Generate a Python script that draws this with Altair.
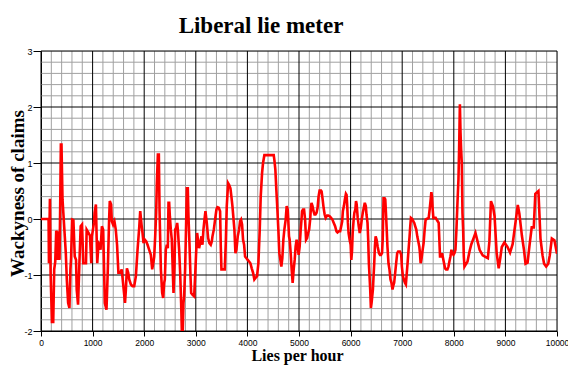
import altair as alt
import pandas as pd

# ---- data ----
lies_per_hour = [
    0, 147, 154, 173, 186, 212, 237, 256, 276, 295, 314, 327, 340, 359, 372, 385, 397, 417, 429, 449,
    481, 500, 526, 551, 570, 583, 603, 628, 654, 679, 692, 718, 744, 769, 795, 820, 872, 885, 923, 949,
    974, 987, 1026, 1038, 1064, 1090, 1115, 1135, 1154, 1180, 1205, 1237, 1269, 1295, 1320, 1333, 1359,
    1372, 1397, 1423, 1449, 1474, 1500, 1538, 1564, 1603, 1628, 1645, 1665, 1690, 1710, 1742, 1774, 1806,
    1839, 1871, 1903, 1923, 1948, 1968, 1987, 2013, 2039, 2065, 2097, 2129, 2155, 2181, 2194, 2213, 2232,
    2245, 2265, 2284, 2297, 2323, 2348, 2368, 2387, 2400, 2419, 2439, 2458, 2471, 2484, 2497, 2516, 2535,
    2555, 2568, 2587, 2600, 2619, 2639, 2652, 2677, 2697, 2716, 2729, 2748, 2761, 2774, 2793, 2813, 2826,
    2845, 2858, 2877, 2897, 2910, 2935, 2968, 2987, 3006, 3026, 3045, 3064, 3084, 3110, 3129, 3148, 3168,
    3187, 3213, 3239, 3264, 3290, 3310, 3323, 3349, 3374, 3400, 3420, 3445, 3471, 3484, 3497, 3561, 3581,
    3600, 3626, 3645, 3671, 3690, 3710, 3729, 3748, 3768, 3787, 3813, 3839, 3858, 3877, 3897, 3916, 3936,
    3955, 3981, 4006, 4032, 4058, 4084, 4110, 4135, 4161, 4187, 4213, 4239, 4258, 4284, 4303, 4329, 4510,
    4522, 4542, 4561, 4581, 4600, 4619, 4639, 4658, 4677, 4697, 4716, 4742, 4761, 4781, 4793, 4806, 4819,
    4839, 4858, 4877, 4897, 4916, 4935, 4954, 4974, 4993, 5013, 5033, 5046, 5059, 5078, 5098, 5118, 5137,
    5157, 5177, 5196, 5216, 5229, 5242, 5262, 5281, 5301, 5320, 5340, 5360, 5379, 5399, 5425, 5438, 5458,
    5477, 5497, 5517, 5543, 5569, 5595, 5621, 5647, 5674, 5700, 5726, 5746, 5772, 5798, 5818, 5837, 5850,
    5870, 5889, 5909, 5922, 5935, 5948, 5961, 5981, 6001, 6014, 6027, 6040, 6059, 6073, 6092, 6105, 6118,
    6138, 6158, 6177, 6197, 6216, 6236, 6256, 6275, 6295, 6308, 6328, 6341, 6354, 6367, 6380, 6393, 6406,
    6419, 6432, 6445, 6458, 6471, 6485, 6504, 6524, 6550, 6570, 6589, 6609, 6622, 6630, 6638, 6660, 6672,
    6685, 6700, 6714, 6734, 6753, 6773, 6792, 6812, 6825, 6844, 6864, 6883, 6903, 6922, 6955, 6981, 6994,
    7013, 7032, 7052, 7071, 7084, 7104, 7123, 7143, 7156, 7169, 7195, 7214, 7234, 7253, 7273, 7292, 7312,
    7331, 7344, 7357, 7376, 7396, 7415, 7435, 7454, 7474, 7513, 7532, 7552, 7565, 7578, 7591, 7604, 7649,
    7668, 7688, 7707, 7720, 7733, 7753, 7772, 7792, 7811, 7831, 7850, 7876, 7896, 7915, 7935, 7954, 7973,
    7993, 8012, 8032, 8051, 8071, 8090, 8103, 8118, 8130, 8142, 8155, 8168, 8181, 8194, 8207, 8227, 8246,
    8266, 8285, 8304, 8340, 8380, 8420, 8460, 8500, 8560, 8620, 8660, 8690, 8720, 8760, 8790, 8830, 8870,
    8900, 8930, 8980, 9040, 9090, 9140, 9190, 9240, 9270, 9320, 9360, 9390, 9430, 9470, 9510, 9550, 9580,
    9640, 9680, 9720, 9750, 9790, 9830, 9860, 9900, 9950, 10000,
]
wackyness = [
    0.00, 0.00, -0.79, 0.36, -0.96, -1.84, -1.84, -0.90, -0.76, -0.21, -0.25, -0.73, -0.22, -0.73, 0.24, 1.33, 1.33, 0.35, 0.17, -0.13,
    -0.61, -1.08, -1.50, -1.59, -0.90, -0.70, -0.01, -0.02, -0.67, -0.73, -1.26, -1.53, -0.79, -0.13, -0.10, -0.79, -0.79, -0.19, -0.25, -0.30,
    -0.79, -0.31, -0.07, 0.11, 0.26, -0.79, -0.43, -0.46, -0.55, -0.13, -0.19, -1.50, -1.62, -0.90, -0.01, 0.32, 0.26,
    -0.04, -0.10, -0.04, -0.19, -0.46, -0.96, -0.96, -0.90, -1.26, -1.50, -1.26, -0.88, -0.96, -1.08, -1.17, -1.20, -1.20,
    -1.02, -0.55, -0.16, 0.14, -0.10, -0.25, -0.43, -0.37, -0.40, -0.46, -0.55, -0.64, -0.90, -0.76, -0.67, -0.31, 0.11,
    0.64, 1.15, 1.15, 0.17, -0.90, -1.32, -1.41, -1.14, -1.08, -0.55, -0.46, -0.52, 0.29, 0.29, 0.05, -0.19, -0.37,
    -0.96, -1.32, -0.85, -0.19, -0.16, -0.07, -0.19, -0.55, -0.96, -1.50, -1.98, -1.98, -1.50, -1.38, -0.90, -0.07, 0.55,
    0.55, 0.05, -0.43, -1.02, -1.32, -1.35, -1.38, -1.02, -0.61, -0.25, -0.40, -0.52, -0.43, -0.31, -0.46, -0.19, -0.01,
    0.14, -0.07, -0.34, -0.43, -0.46, -0.40, -0.31, -0.19, -0.01, 0.17, 0.21, 0.20, 0.14, -0.49, -0.90, -0.90, -0.43,
    0.23, 0.64, 0.61, 0.55, 0.40, 0.23, 0.02, -0.19, -0.61, -0.55, -0.31, -0.19, -0.04, -0.01, -0.10, -0.37, -0.46,
    -0.67, -0.70, -0.73, -0.76, -0.79, -0.88, -0.96, -1.08, -1.05, -1.02, -0.79, -0.19, 0.40, 0.82, 1.00, 1.14, 1.14,
    1.06, 0.88, 0.52, 0.17, -0.19, -0.61, -0.73, -0.85, -0.70, -0.37, -0.19, -0.01, 0.23, 0.17, -0.04, -0.31, -0.37,
    -0.61, -0.90, -1.14, -0.90, -0.73, -0.49, -0.37, -0.49, -0.64, -0.49, -0.19, -0.04, 0.14, 0.17, 0.17, -0.01, -0.37,
    -0.34, -0.25, -0.19, -0.01, 0.17, 0.29, 0.23, 0.14, 0.08, 0.08, 0.11, 0.20, 0.40, 0.51, 0.51, 0.49, 0.35,
    0.20, 0.08, 0.02, 0.06, 0.06, 0.05, 0.02, -0.01, -0.07, -0.13, -0.22, -0.24, -0.22, -0.22, -0.13, -0.04, 0.14,
    0.23, 0.35, 0.45, 0.43, 0.23, -0.07, -0.25, -0.37, -0.46, -0.73, -0.58, -0.25, -0.01, 0.11, 0.17, 0.32, 0.26,
    0.02, -0.13, -0.25, -0.16, -0.01, 0.11, 0.20, 0.29, 0.23, 0.08, -0.07, -0.37, -0.79, -1.02, -1.26, -1.59, -1.50,
    -1.38, -1.26, -1.02, -0.79, -0.49, -0.31, -0.37, -0.49, -0.61, -0.64, -0.64, -0.61, -0.37, -0.01, 0.37, 0.37, 0.35,
    0.11, -0.19, -0.49, -0.79, -0.90, -1.08, -1.14, -1.26, -1.20, -1.14, -0.96, -0.79, -0.61, -0.58, -0.58, -0.64, -0.85,
    -1.02, -1.08, -1.14, -1.17, -1.02, -0.79, -0.55, -0.31, -0.13, 0.02, 0.00, -0.04, -0.07, -0.13, -0.19, -0.31, -0.40,
    -0.49, -0.61, -0.79, -0.70, -0.55, -0.43, -0.19, -0.01, 0.00, 0.02, 0.17, 0.35, 0.48, 0.40, 0.17, 0.02, 0.02,
    -0.01, -0.04, -0.07, -0.37, -0.67, -0.67, -0.61, -0.70, -0.79, -0.88, -0.90, -0.90, -0.85, -0.76, -0.67, -0.55, -0.61,
    -0.64, -0.61, -0.55, -0.19, 0.29, 0.70, 1.24, 2.05, 1.55, 1.24, 1.00, 0.11, -0.19, -0.67, -0.85, -0.82, -0.79,
    -0.76, -0.67, -0.58, -0.45, -0.35, -0.25, -0.40, -0.55, -0.65, -0.68, -0.70, -0.40, 0.32, 0.22, 0.05, -0.60, -0.88,
    -0.70, -0.50, -0.42, -0.50, -0.60, -0.45, -0.10, 0.25, 0.10, -0.30, -0.55, -0.80, -0.78, -0.45, -0.15, -0.15, 0.45,
    0.50, -0.35, -0.65, -0.80, -0.85, -0.80, -0.65, -0.35, -0.38, -0.62,
]

x_major = list(range(0, 10001, 1000))
x_minor = [v for v in range(200, 10000, 200) if v % 1000 != 0]
y_major = [-2, -1, 0, 1, 2, 3]
y_minor = [round(-2 + 0.2 * i, 1) for i in range(1, 25) if (i % 5) != 0]

series = pd.DataFrame({"x": lies_per_hour, "y": wackyness})

xscale = alt.Scale(domain=[0, 10000], nice=False, zero=False)
yscale = alt.Scale(domain=[-2, 3], nice=False, zero=False)

x_axis = alt.Axis(values=x_major, labelExpr="toString(datum.value)", title="Lies per hour", grid=False,
                  domainColor="black", tickColor="black", tickSize=5,
                  labelFont="Liberation Sans", labelFontSize=8.5, labelColor="black",
                  labelPadding=2, labelFlush=False,
                  titleFont="Liberation Serif", titleFontSize=16, titleFontWeight="bold",
                  titleColor="black", titleX=256, titleY=29, titleBaseline="alphabetic")
y_axis = alt.Axis(values=y_major, labelExpr="toString(datum.value)", title="Wackyness of claims", grid=False,
                  domainColor="black", tickColor="black", tickSize=8,
                  labelFont="Liberation Sans", labelFontSize=9, labelColor="black",
                  labelPadding=1, labelFlush=False,
                  titleFont="Liberation Serif", titleFontSize=19, titleFontWeight="bold",
                  titleColor="black", titleX=-18, titleY=142, titleBaseline="alphabetic")

minor_v = alt.Chart(pd.DataFrame({"v": x_minor})).mark_rule(color="#a0a0a0", strokeWidth=1).encode(
    x=alt.X("v:Q", scale=xscale, axis=x_axis))
minor_h = alt.Chart(pd.DataFrame({"v": y_minor})).mark_rule(color="#a0a0a0", strokeWidth=1).encode(
    y=alt.Y("v:Q", scale=yscale, axis=y_axis))
major_v = alt.Chart(pd.DataFrame({"v": x_major})).mark_rule(color="#000000", strokeWidth=1).encode(
    x=alt.X("v:Q", scale=xscale, axis=x_axis))
major_h = alt.Chart(pd.DataFrame({"v": y_major})).mark_rule(color="#000000", strokeWidth=1).encode(
    y=alt.Y("v:Q", scale=yscale, axis=y_axis))

line = alt.Chart(series).mark_line(color="#ff0000", strokeWidth=2.6, clip=True).encode(
    x=alt.X("x:Q", scale=xscale, axis=x_axis),
    y=alt.Y("y:Q", scale=yscale, axis=y_axis),
)

chart = alt.layer(minor_v, minor_h, major_v, major_h, line).properties(
    width=516, height=280,
    title=alt.TitleParams("Liberal lie meter", font="Liberation Serif", fontSize=23,
                          fontWeight="bold", color="black", anchor="middle", frame="group",
                          dx=-38, dy=23, baseline="alphabetic", offset=14),
    autosize=alt.AutoSizeParams(type="none"),
    padding={"left": 33, "top": 43, "right": 11, "bottom": 34},
).configure_view(stroke=None).configure(background="white")

chart.save("out.html", embed_options={"renderer": "svg", "actions": False})
